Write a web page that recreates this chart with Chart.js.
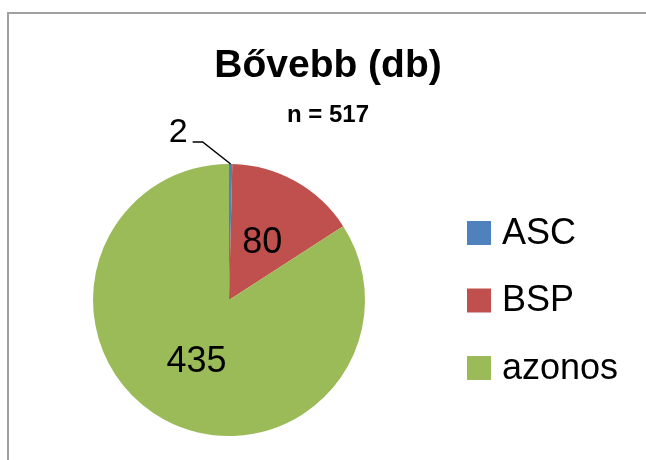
<!DOCTYPE html>
<html>
<head>
<meta charset="utf-8">
<script src="https://cdn.jsdelivr.net/npm/chart.js@4/dist/chart.umd.min.js"></script>
<style>
  html, body { margin: 0; padding: 0; background: #fff; }
  #wrap { width: 646px; height: 460px; position: relative; }
</style>
</head>
<body>
<div id="wrap"><canvas id="chart" width="646" height="460"></canvas></div>
<script>
const labels = ['ASC', 'BSP', 'azonos'];
const values = [2, 80, 435];
const colors = ['#4F81BD', '#C0504D', '#9BBB59'];
const titleText = 'Bővebb (db)';
const subtitleText = 'n = 517';

const FONT = '"Liberation Sans", Arial, sans-serif';

// frame, titles, value labels and legend, placed like the Excel original
const decor = {
    id: 'decor',
    beforeDraw(chart) {
        const ctx = chart.ctx;
        ctx.save();
        ctx.strokeStyle = '#a0a0a0';
        ctx.lineWidth = 2;
        ctx.beginPath();
        ctx.moveTo(8, 460);
        ctx.lineTo(8, 13);
        ctx.lineTo(646, 13);
        ctx.stroke();
        ctx.restore();
    },
    afterDraw(chart) {
        const ctx = chart.ctx;
        const arcs = chart.getDatasetMeta(0).data;
        const data = chart.data.datasets[0].data;
        ctx.save();
        ctx.fillStyle = '#000';
        ctx.textAlign = 'center';
        ctx.textBaseline = 'alphabetic';
        ctx.font = 'bold 39px ' + FONT;
        ctx.fillText(titleText, 328, 77);
        ctx.font = 'bold 24px ' + FONT;
        ctx.fillText(subtitleText, 328, 122);

        // value labels
        ctx.textBaseline = 'middle';
        arcs.forEach((arc, i) => {
            const p = arc.getProps(['x', 'y', 'startAngle', 'endAngle', 'outerRadius'], true);
            const mid = (p.startAngle + p.endAngle) / 2;
            if (data[i] < 10) {
                // small slice: label outside with leader line
                const ex = p.x + Math.cos(mid) * p.outerRadius;
                const ey = p.y + Math.sin(mid) * p.outerRadius;
                ctx.strokeStyle = '#000';
                ctx.lineWidth = 1.5;
                ctx.beginPath();
                ctx.moveTo(ex, ey);
                ctx.lineTo(ex - 28, ey - 22);
                ctx.lineTo(ex - 38, ey - 22);
                ctx.stroke();
                ctx.font = '34px ' + FONT;
                ctx.textAlign = 'right';
                ctx.fillText(String(data[i]), ex - 43, ey - 31);
            } else {
                const c = arc.getCenterPoint();
                ctx.font = '36px ' + FONT;
                ctx.textAlign = 'center';
                ctx.fillText(String(data[i]), c.x, c.y + 2);
            }
        });

        // legend
        const lx = 467, ly0 = 233, step = 67.5, box = 24;
        chart.data.labels.forEach((lab, i) => {
            const y = ly0 + i * step;
            ctx.fillStyle = chart.data.datasets[0].backgroundColor[i];
            ctx.fillRect(lx, y - box / 2, box, box);
            ctx.fillStyle = '#000';
            ctx.font = '36px ' + FONT;
            ctx.textAlign = 'left';
            ctx.fillText(lab, lx + 35, y + 1);
        });
        ctx.restore();
    }
};

new Chart(document.getElementById('chart'), {
    type: 'pie',
    data: {
        labels: labels,
        datasets: [{
            data: values,
            backgroundColor: colors,
            borderWidth: 0
        }]
    },
    options: {
        responsive: false,
        animation: false,
        layout: { padding: { left: 93, right: 281, top: 164, bottom: 24 } },
        plugins: {
            legend: { display: false },
            tooltip: { enabled: false },
            title: { display: false }
        }
    },
    plugins: [decor]
});
</script>
</body>
</html>
